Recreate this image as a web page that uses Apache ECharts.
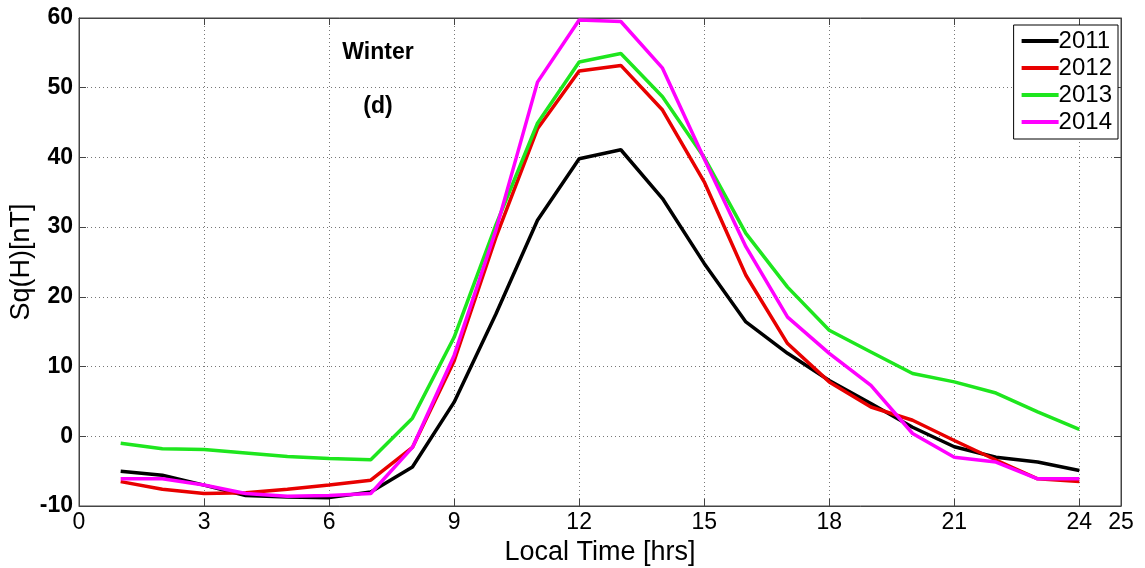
<!DOCTYPE html>
<html>
<head>
<meta charset="utf-8">
<script src="https://cdn.jsdelivr.net/npm/echarts@6/dist/echarts.min.js"></script>
<style>html,body{margin:0;padding:0;background:#fff;}#c{width:1145px;height:568px;}</style>
</head>
<body>
<div id="c"></div>
<script>
const hours = [1,2,3,4,5,6,7,8,9,10,11,12,13,14,15,16,17,18,19,20,21,22,23,24];
const seriesNames = ['2011','2012','2013','2014'];
const y2011 = [-5.0,-5.6,-7.0,-8.5,-8.7,-8.8,-8.0,-4.4,4.9,17.5,31.0,39.8,41.1,34.1,24.8,16.4,11.9,8.0,4.7,1.3,-1.5,-3.0,-3.7,-4.9];
const y2012 = [-6.5,-7.6,-8.2,-8.1,-7.6,-7.0,-6.3,-1.6,10.8,28.5,44.1,52.4,53.2,46.8,36.5,23.1,13.3,7.8,4.2,2.3,-0.6,-3.4,-6.1,-6.5];
const y2013 = [-1.0,-1.8,-1.9,-2.4,-2.9,-3.2,-3.35,2.6,14.2,30.3,44.9,53.7,54.9,48.7,40.0,29.1,21.4,15.2,12.1,9.0,7.8,6.2,3.5,1.0];
const y2014 = [-6.1,-6.1,-7.0,-8.2,-8.6,-8.5,-8.2,-1.6,11.6,29.5,50.8,59.7,59.5,52.8,39.8,27.2,17.1,11.9,7.3,0.4,-3.0,-3.7,-6.1,-6.1];
const colors = ['#000000','#e80000','#1ee61e','#ff00ff'];
const allData = [y2011,y2012,y2013,y2014];

const FONT = 'Liberation Sans';
const chart = echarts.init(document.getElementById('c'));
chart.setOption({
  animation:false,
  backgroundColor:'#fff',
  textStyle:{fontFamily:FONT},
  grid:{left:79,right:24,top:18,bottom:62,containLabel:false,outerBoundsMode:'none',show:true,borderColor:'#444',borderWidth:1,backgroundColor:'transparent'},
  legend:{
    orient:'vertical', right:27, top:25,
    backgroundColor:'#fff', borderColor:'#000', borderWidth:1,
    padding:[4,6,5,8], itemGap:3,
    itemWidth:37, itemHeight:4, icon:'rect',
    textStyle:{fontFamily:FONT,fontSize:24,lineHeight:24,color:'#000',padding:[0,0,0,-5]},
    data:seriesNames
  },
  graphic:[
    {type:'text',x:378,y:53,style:{text:'Winter',font:'bold 23px "Liberation Sans"',fill:'#000',textAlign:'center',textVerticalAlign:'middle'}},
    {type:'text',x:378,y:107,style:{text:'(d)',font:'bold 23px "Liberation Sans"',fill:'#000',textAlign:'center',textVerticalAlign:'middle'}}
  ],
  xAxis:[{
    type:'value', min:0, max:25, interval:3,
    name:'Local Time [hrs]', nameLocation:'middle', nameGap:31,
    nameTextStyle:{fontFamily:FONT,fontSize:27,color:'#000'},
    axisLine:{show:true,onZero:false,lineStyle:{color:'#444'}},
    axisTick:{inside:true,length:7,lineStyle:{color:'#444'}},
    axisLabel:{fontFamily:FONT,fontSize:23,color:'#000',margin:5},
    splitLine:{show:true,lineStyle:{type:[1,3],color:'#777',width:1}}
  },{
    type:'value', min:0, max:25, interval:3, position:'top',
    axisLine:{show:true,onZero:false,lineStyle:{color:'#444'}},
    axisTick:{inside:true,length:7,lineStyle:{color:'#444'}},
    axisLabel:{show:false}, splitLine:{show:false}
  }],
  yAxis:[{
    type:'value', min:-10, max:60, interval:10,
    name:'Sq(H)[nT]', nameLocation:'middle', nameGap:44, nameMoveOverlap:false,
    nameTextStyle:{fontFamily:FONT,fontSize:27,color:'#000'},
    axisLine:{show:true,onZero:false,lineStyle:{color:'#444'}},
    axisTick:{inside:true,length:7,lineStyle:{color:'#444'}},
    axisLabel:{fontFamily:FONT,fontSize:23,color:'#000',fontWeight:'bold',margin:6},
    splitLine:{show:true,lineStyle:{type:[1,3],color:'#777',width:1}}
  },{
    type:'value', min:-10, max:60, interval:10, position:'right',
    axisLine:{show:true,onZero:false,lineStyle:{color:'#444'}},
    axisTick:{inside:true,length:7,lineStyle:{color:'#444'}},
    axisLabel:{show:false}, splitLine:{show:false}
  }],
  series: seriesNames.map((n,i)=>({
    name:n, type:'line', showSymbol:false, symbol:'none',
    data: hours.map((h,k)=>[h, allData[i][k]]),
    lineStyle:{color:colors[i],width:3.5},
    itemStyle:{color:colors[i]},
    z: 2+i
  }))
});
</script>
</body>
</html>
